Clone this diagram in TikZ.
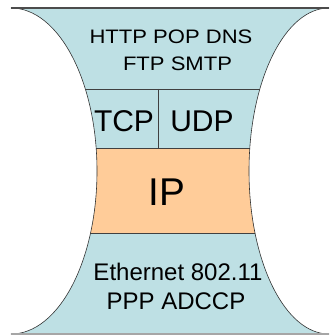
\documentclass[tikz,border=0pt]{standalone}
\usepackage{fontspec}
\setmainfont{Liberation Sans}
\newfontfamily\widefont[FakeStretch=1.13]{Liberation Sans}
\definecolor{layerblue}{RGB}{190,224,228}
\definecolor{iporange}{RGB}{255,204,153}
\begin{document}
\begin{tikzpicture}[x=1pt,y=1pt,
  txt/.style={anchor=base,inner sep=0pt,text=black},
  sepline/.style={draw=black!75,line width=0.9pt}]
\useasboundingbox (0,0) rectangle (330,-336);
\def\hourglass{(11,-8) -- (329,-8) arc[start angle=90,end angle=270,x radius=80pt,y radius=163pt] -- (11,-334) arc[start angle=-90,end angle=90,x radius=86pt,y radius=163pt] -- cycle}
\fill[layerblue] \hourglass;
\begin{scope}
  \clip \hourglass;
  \fill[iporange] (0,-148) rectangle (330,-233);
  \draw[sepline] (0,-89) -- (330,-89);
  \draw[sepline] (0,-148) -- (330,-148);
  \draw[sepline] (0,-233) -- (330,-233);
  \draw[sepline] (158,-89) -- (158,-148);
\end{scope}
\draw[black!80,line width=0.6pt] \hourglass;
\draw[black!70,line width=1.2pt] (11,-8) -- (329,-8);
\draw[black!35,line width=1.2pt] (11,-334) -- (329,-334);
\node[txt,font=\widefont\fontsize{19.5}{23}\selectfont] (app1) at (171,-43.3) {HTTP POP DNS};
\node[txt,font=\widefont\fontsize{19.5}{23}\selectfont] (app2) at (177.5,-70.7) {FTP SMTP};
\node[txt,font=\fontsize{30}{36}\selectfont] (tcp) at (124,-131.7) {TCP};
\node[txt,font=\fontsize{30}{36}\selectfont] (udp) at (202,-131.7) {UDP};
\node[txt,font=\fontsize{38.7}{46}\selectfont] (ip) at (167,-205) {IP};
\node[txt,font=\fontsize{24}{29}\selectfont] (link1) at (178,-280.7) {Ethernet 802.11};
\node[txt,font=\fontsize{24}{29}\selectfont] (link2) at (176,-309) {PPP ADCCP};
\end{tikzpicture}
\end{document}
